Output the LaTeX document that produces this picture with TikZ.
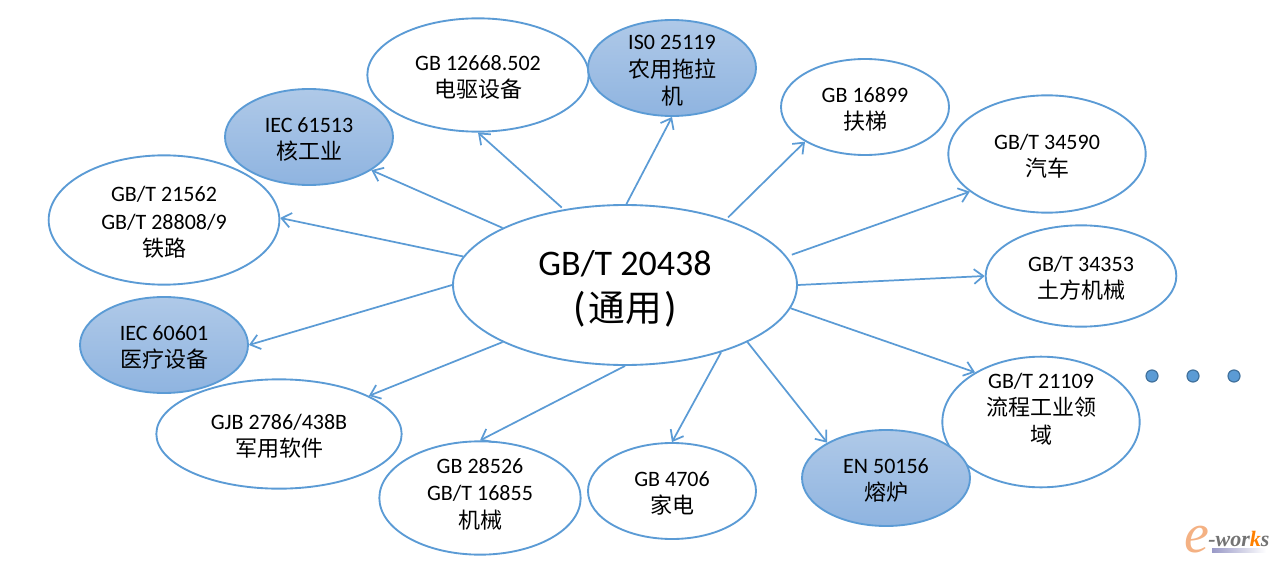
\documentclass[tikz,border=0pt]{standalone}
\usepackage{fontspec}
\setmainfont{Carlito}
\newfontfamily\cjk{Noto Sans CJK SC}
\newfontfamily\logofont{Liberation Serif}
\usetikzlibrary{shapes.geometric,arrows.meta}
\definecolor{linkblue}{HTML}{5B9BD5}
\definecolor{dotedge}{HTML}{41719C}
\definecolor{hottop}{HTML}{AFC9E8}
\definecolor{hotbottom}{HTML}{8FB4E0}
\definecolor{logoorange}{HTML}{F4B183}
\newcommand{\toppad}{\rule{0pt}{15pt}}
\tikzset{
    stdnode/.style={ellipse,draw=linkblue,line width=1.4pt,fill=white,inner sep=-8pt,align=center,font=\fontsize{16.5}{20.5}\selectfont},
    hotnode/.style={stdnode,top color=hottop,bottom color=hotbottom},
    textup/.style={execute at end node={\rule[-#1]{0pt}{#1}}},
    linkarrow/.style={draw=linkblue,line width=1.3pt,-{Straight Barb[length=7pt,width=11pt]}},
    morepoint/.style={circle,draw=dotedge,fill=linkblue,line width=0.9pt,minimum size=9pt,inner sep=0pt}
}
\begin{document}
\begin{tikzpicture}[x=0.75pt,y=-0.75pt]
    \useasboundingbox (0,0) rectangle (1277,563);

    % Centre ellipse
    \node[stdnode,minimum width=258pt,minimum height=120pt,font=\fontsize{27}{34.5}\selectfont] (main) at (625,285) {\rule{0pt}{24.5pt}GB/T 20438\\{\fontsize{31}{34.5}\selectfont(}\kern2pt{\cjk\fontsize{27.5}{34.5}\selectfont 通用}\kern2pt{\fontsize{31}{34.5}\selectfont)}};

    % Standards round the centre
    \node[stdnode,minimum width=166pt,minimum height=85pt] (motor) at (478,75) {\toppad GB 12668.502\\{\cjk 电驱设备}};
    \node[hotnode,minimum width=126pt,minimum height=72pt] (tractor) at (672,68) {\toppad IS0 25119\\{\cjk 农用拖拉}\\{\cjk 机}};
    \node[stdnode,minimum width=126pt,minimum height=72pt] (lift) at (865,107) {\toppad GB 16899\\{\cjk 扶梯}};
    \node[stdnode,minimum width=148pt,minimum height=88pt] (car) at (1047,154) {\toppad GB/T 34590\\{\cjk 汽车}};
    \node[stdnode,minimum width=143pt,minimum height=76pt] (earth) at (1081,276) {\toppad GB/T 34353\\{\cjk 土方机械}};
    \node[stdnode,textup=20.5pt,minimum width=148pt,minimum height=98pt] (process) at (1041,422) {GB/T 21109\\{\cjk 流程工业领}\\{\cjk 域}};
    \node[hotnode,minimum width=126pt,minimum height=72pt] (furnace) at (886,478) {\toppad EN 50156\\{\cjk 熔炉}};
    \node[stdnode,minimum width=126pt,minimum height=72pt] (home) at (672,491) {\toppad GB 4706\\{\cjk 家电}};
    \node[stdnode,textup=7pt,minimum width=151pt,minimum height=85pt] (machine) at (480,498) {GB 28526\\GB/T 16855\\{\cjk 机械}};
    \node[stdnode,minimum width=184pt,minimum height=82pt] (army) at (279,434) {\toppad GJB 2786/438B\\{\cjk 军用软件}};
    \node[hotnode,minimum width=126pt,minimum height=72pt] (medical) at (164,345) {\toppad IEC 60601\\{\cjk 医疗设备}};
    \node[stdnode,minimum width=173pt,minimum height=97pt] (rail) at (164,220) {\toppad GB/T 21562\\GB/T 28808/9\\{\cjk 铁路}};
    \node[hotnode,minimum width=126pt,minimum height=72pt] (nuclear) at (309,137) {\toppad IEC 61513\\{\cjk 核工业}};

    % Arrows out of the centre
    \foreach \target/\from/\to/\gap in {motor/129/-90/2,tractor/89/-90/0,lift/33/210/2,car/10/206/4,earth/0/180/0,process/-8/143/0,furnace/-25/149/0,home/-35/90/0,machine/-90/90/0,army/205/23/0,medical/180/0/0,rail/170/1/0,nuclear/155/-28/0} {
        \draw[linkarrow,shorten <=\gap pt] (main.\from) -- (\target.\to);
    }

    % Three dots
    \foreach \x/\name in {1152/dota,1193/dotb,1234/dotc} {
        \node[morepoint] (\name) at (\x,376) {};
    }

    % Logo
    \node[inner sep=0pt,anchor=base,text=logoorange,font=\logofont\itshape\fontsize{42}{42}\selectfont] (logoe) at (1197,552) {e};
    \node[inner sep=0pt,anchor=west,text=black!55,font=\logofont\bfseries\itshape\fontsize{16.5}{16.5}\selectfont] (logotext) at (1208,539) {-wor{\color{orange}k}s};
    \fill[left color=blue!45!black!40!white,right color=white] (1212,548) rectangle (1266,552);
\end{tikzpicture}
\end{document}
